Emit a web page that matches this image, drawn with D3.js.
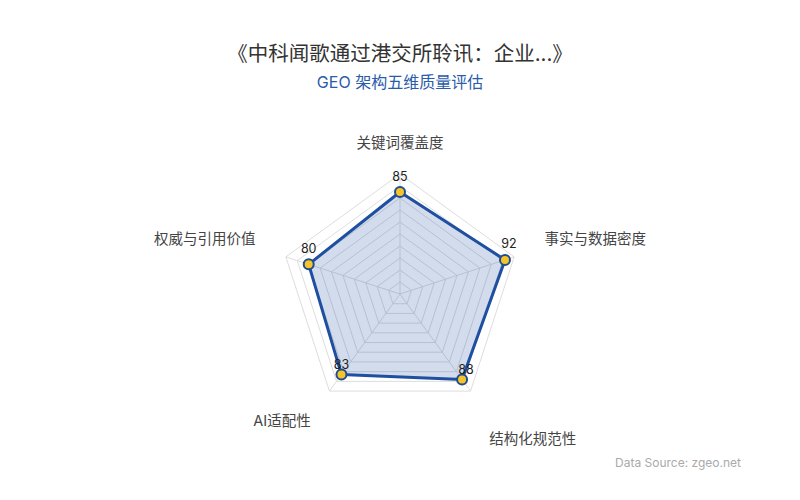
<!DOCTYPE html>
<html>
<head>
<meta charset="utf-8">
<script src="https://cdn.jsdelivr.net/npm/d3@7"></script>
<style>
  body { margin: 0; background: #fff; }
  svg { font-family: Inter, "Noto Sans CJK SC", sans-serif; }
</style>
</head>
<body>
<div id="radar"></div>
<script>
// chart data
const axes = ['关键词覆盖度', '事实与数据密度', '结构化规范性', 'AI适配性', '权威与引用价值'];
const scores = [85, 92, 88, 83, 80];
const maxScore = 100;
const splitCount = 10;

const width = 800;
const height = 500;
const cx = 400, cy = 294;
const radius = 120;

const svg = d3.select('#radar')
    .append('svg')
    .attr('width', width)
    .attr('height', height);

// titles
svg.append('text')
    .attr('x', width / 2)
    .attr('y', 53)
    .attr('text-anchor', 'middle')
    .attr('dominant-baseline', 'central')
    .attr('font-size', '20.5px')
    .attr('fill', '#333')
    .text('《中科闻歌通过港交所聆讯：企业...》');

svg.append('text')
    .attr('x', width / 2)
    .attr('y', 82)
    .attr('text-anchor', 'middle')
    .attr('dominant-baseline', 'central')
    .attr('font-size', '16px')
    .attr('fill', '#2a5caa')
    .text('GEO 架构五维质量评估');

svg.append('text')
    .attr('x', 741)
    .attr('y', 462)
    .attr('text-anchor', 'end')
    .attr('dominant-baseline', 'central')
    .attr('font-size', '12px')
    .attr('fill', '#aaa')
    .text('Data Source: zgeo.net');

const g = svg.append('g')
    .attr('transform', `translate(${cx}, ${cy})`);

const angle = d3.scalePoint()
    .domain(axes)
    .range([0, 2 * Math.PI * (axes.length - 1) / axes.length]);

const r = d3.scaleLinear()
    .domain([0, maxScore])
    .range([0, radius]);

const point = (name, value) => {
    const a = angle(name);
    return [r(value) * Math.sin(a), -r(value) * Math.cos(a)];
};

// grid rings
const ringValues = d3.range(1, splitCount + 1).map(i => i * maxScore / splitCount);
const ring = d3.line();

g.selectAll('.ring')
    .data(ringValues)
    .enter()
    .append('path')
    .attr('class', 'ring')
    .attr('d', v => ring(axes.map(a => point(a, v))) + 'Z')
    .attr('fill', 'none')
    .attr('stroke', '#ddd')
    .attr('stroke-width', 1);

// spokes
g.selectAll('.spoke')
    .data(axes)
    .enter()
    .append('line')
    .attr('class', 'spoke')
    .attr('x1', 0)
    .attr('y1', 0)
    .attr('x2', d => point(d, maxScore)[0])
    .attr('y2', d => point(d, maxScore)[1])
    .attr('stroke', '#ddd')
    .attr('stroke-width', 1);

// data polygon
const pts = axes.map((a, i) => point(a, scores[i]));

g.append('path')
    .attr('d', d3.line()(pts) + 'Z')
    .attr('fill', 'rgba(31, 79, 160, 0.2)')
    .attr('stroke', '#1f4fa0')
    .attr('stroke-width', 3)
    .attr('stroke-linejoin', 'round');

g.selectAll('.dot')
    .data(pts)
    .enter()
    .append('circle')
    .attr('class', 'dot')
    .attr('cx', d => d[0])
    .attr('cy', d => d[1])
    .attr('r', 5)
    .attr('fill', '#f5c42c')
    .attr('stroke', '#1f4e8c')
    .attr('stroke-width', 2);

// value labels
g.selectAll('.val')
    .data(scores)
    .enter()
    .append('text')
    .attr('class', 'val')
    .attr('x', (d, i) => pts[i][0] + (Math.sin(angle(axes[i])) > 0.5 ? 4 : 0))
    .attr('y', (d, i) => pts[i][1] + (Math.cos(angle(axes[i])) < 0 ? -10 : -16))
    .attr('text-anchor', 'middle')
    .attr('dominant-baseline', 'central')
    .attr('font-size', '12.5px')
    .attr('fill', '#222')
    .text(d => d);

// axis names
const labelR = r(maxScore) + 32;
g.selectAll('.axis-name')
    .data(axes)
    .enter()
    .append('text')
    .attr('class', 'axis-name')
    .attr('x', d => labelR * Math.sin(angle(d)))
    .attr('y', d => {
        const c = Math.cos(angle(d));
        const s = Math.sin(angle(d));
        let y = -labelR * c;
        if (c > 0 && Math.abs(s) > 0.5) y -= 9;
        if (c < 0 && s > 0) y += 22;
        if (c < 0 && s < 0) y += 4;
        return y;
    })
    .attr('text-anchor', d => {
        const s = Math.sin(angle(d));
        return s > 0.1 ? 'start' : (s < -0.1 ? 'end' : 'middle');
    })
    .attr('dominant-baseline', 'central')
    .attr('font-size', '14.5px')
    .attr('fill', '#444')
    .text(d => d);
</script>
</body>
</html>
